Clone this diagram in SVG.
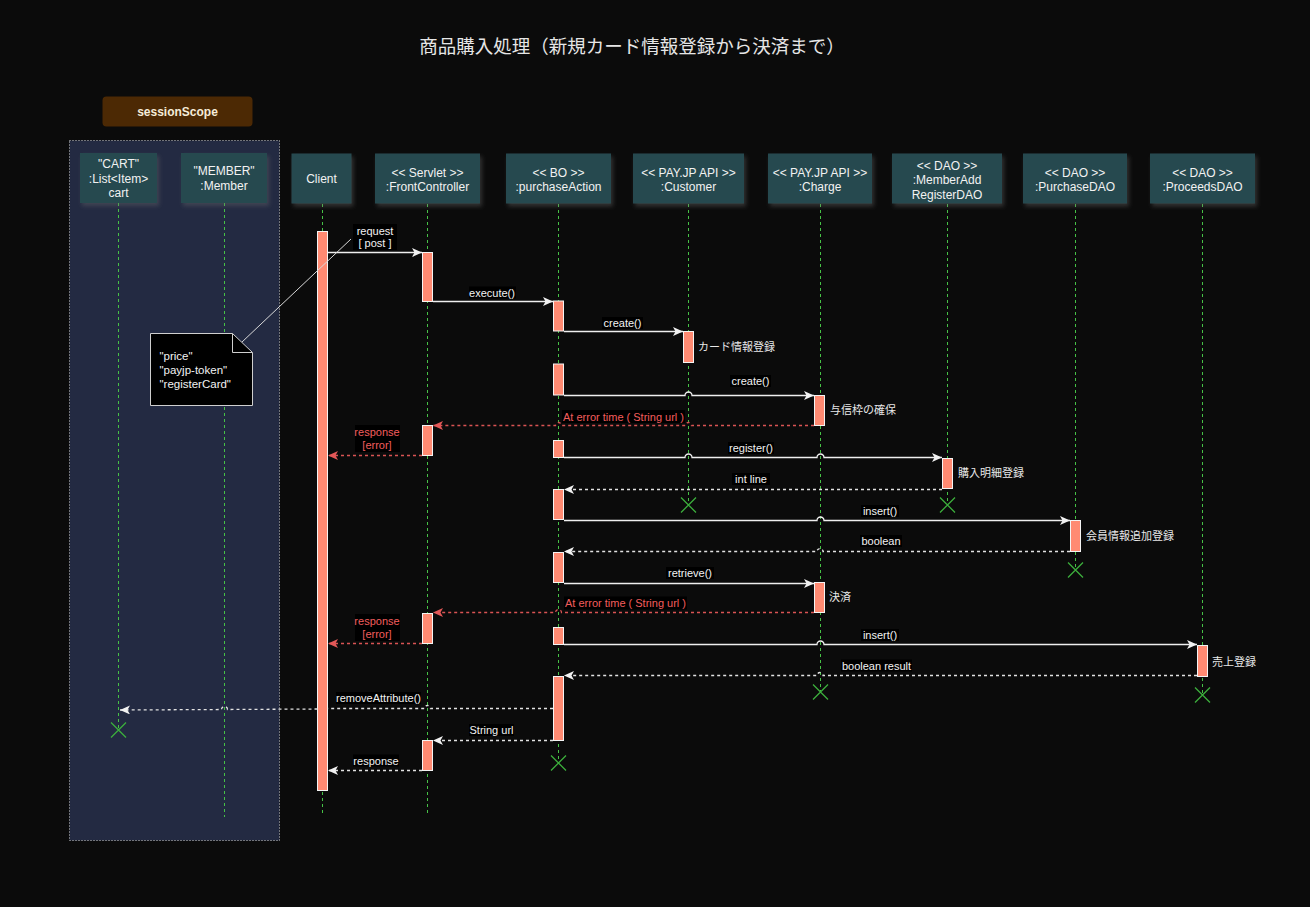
<svg xmlns="http://www.w3.org/2000/svg" width="1310" height="907" viewBox="0 0 1310 907">
  <style>
    .t { font-family: "Liberation Sans", Arial, "Noto Sans CJK JP", sans-serif; }
    .box { fill: #274a50; filter: url(#sh); }
    .bt { font-size: 12px; fill: #f2f2f2; text-anchor: middle; dominant-baseline: central; }
    .life { stroke: #46c246; stroke-width: 1; stroke-dasharray: 3 3; fill: none; }
    .bar { fill: #ff8a72; stroke: #f4f4f4; stroke-width: 1; }
    .xm { stroke: #3cae3c; stroke-width: 1.3; fill: none; }
    .msg { stroke: #efefef; stroke-width: 1.3; fill: none; marker-end: url(#aw); }
    .ret { stroke: #e2e2e2; stroke-width: 1.3; fill: none; stroke-dasharray: 3 3; marker-end: url(#aw); }
    .err { stroke: #d95353; stroke-width: 1.3; fill: none; stroke-dasharray: 3 3; marker-end: url(#ar); }
    .lb { fill: #000; }
    .lt { font-size: 11px; fill: #f2f2f2; text-anchor: middle; dominant-baseline: central; }
    .le { font-size: 11px; fill: #f25d5d; text-anchor: middle; dominant-baseline: central; }
    .side { font-size: 11px; fill: #e8e8e8; dominant-baseline: central; }
    .nt { font-size: 11.5px; fill: #f2f2f2; dominant-baseline: central; }
  </style>
  <defs>
    <filter id="sh" x="-20%" y="-20%" width="150%" height="150%">
      <feDropShadow dx="2" dy="3" stdDeviation="2" flood-color="#6a6a6a" flood-opacity="0.4"/>
    </filter>
    <marker id="aw" markerUnits="userSpaceOnUse" markerWidth="11" markerHeight="9" refX="10" refY="4.5" orient="auto">
      <path d="M0,0 L10,4.5 L0,9 L2.5,4.5 Z" fill="#f2f2f2"/>
    </marker>
    <marker id="ar" markerUnits="userSpaceOnUse" markerWidth="11" markerHeight="9" refX="10" refY="4.5" orient="auto">
      <path d="M0,0 L10,4.5 L0,9 L2.5,4.5 Z" fill="#e35858"/>
    </marker>
  </defs>

  <!-- background -->
  <rect x="0" y="0" width="1310" height="907" fill="#0b0b0b"/>

  <!-- title -->
  <text class="t" x="632" y="46" font-size="18.5" fill="#e6e6e6" text-anchor="middle" dominant-baseline="central">商品購入処理（新規カード情報登録から決済まで）</text>

  <!-- session scope frame -->
  <g id="session-scope">
    <rect x="69.5" y="140.5" width="210" height="700" fill="#232a42" stroke="#cfcfcf" stroke-width="1" stroke-dasharray="1 2"/>
    <rect x="102.5" y="96.5" width="150" height="30" rx="4" fill="#4c2904"/>
    <text class="t" x="177.5" y="111.5" font-size="12" font-weight="bold" fill="#f6ecd9" text-anchor="middle" dominant-baseline="central">sessionScope</text>
  </g>

  <!-- participants -->
  <g id="p-cart">
    <line class="life" x1="118.5" y1="203" x2="118.5" y2="730"/>
    <rect class="box" x="80" y="153" width="77" height="50"/>
    <text class="t bt" x="118.5" y="164">"CART"</text>
    <text class="t bt" x="118.5" y="178.5">:List&lt;Item&gt;</text>
    <text class="t bt" x="118.5" y="192.5">cart</text>
    <path class="xm" d="M111,722.5 L126,737.5 M126,722.5 L111,737.5"/>
  </g>

  <g id="p-member">
    <line class="life" x1="224.5" y1="203" x2="224.5" y2="817"/>
    <rect class="box" x="181" y="153" width="86" height="50"/>
    <text class="t bt" x="224" y="171">"MEMBER"</text>
    <text class="t bt" x="224" y="186">:Member</text>
  </g>

  <g id="p-client">
    <line class="life" x1="322.5" y1="204" x2="322.5" y2="813"/>
    <rect class="box" x="291.5" y="153.5" width="60" height="50"/>
    <text class="t bt" x="321.5" y="179">Client</text>
    <rect class="bar" x="317.5" y="231.5" width="10" height="559"/>
  </g>

  <g id="p-frontcontroller">
    <line class="life" x1="427.5" y1="204" x2="427.5" y2="815"/>
    <rect class="box" x="375" y="153.5" width="105" height="50"/>
    <text class="t bt" x="427.5" y="172.5">&lt;&lt; Servlet &gt;&gt;</text>
    <text class="t bt" x="427.5" y="187">:FrontController</text>
    <rect class="bar" x="422.5" y="252.5" width="10" height="49"/>
    <rect class="bar" x="422.5" y="425.5" width="10" height="30"/>
    <rect class="bar" x="422.5" y="613.5" width="10" height="30"/>
    <rect class="bar" x="422.5" y="740.5" width="10" height="30"/>
  </g>

  <g id="p-purchaseaction">
    <line class="life" x1="558.5" y1="204" x2="558.5" y2="763"/>
    <rect class="box" x="506" y="153.5" width="105" height="50"/>
    <text class="t bt" x="558.5" y="172.5">&lt;&lt; BO &gt;&gt;</text>
    <text class="t bt" x="558.5" y="187">:purchaseAction</text>
    <rect class="bar" x="553.5" y="301" width="10" height="30"/>
    <rect class="bar" x="553.5" y="364" width="10" height="31"/>
    <rect class="bar" x="553.5" y="440.5" width="10" height="17"/>
    <rect class="bar" x="553.5" y="489.5" width="10" height="30"/>
    <rect class="bar" x="553.5" y="552.5" width="10" height="30"/>
    <rect class="bar" x="553.5" y="627.5" width="10" height="17"/>
    <rect class="bar" x="553.5" y="676.5" width="10" height="64"/>
    <path class="xm" d="M551,755.5 L566,770.5 M566,755.5 L551,770.5"/>
  </g>

  <g id="p-customer">
    <line class="life" x1="688.5" y1="204" x2="688.5" y2="505"/>
    <rect class="box" x="633" y="153.5" width="111" height="50"/>
    <text class="t bt" x="688.5" y="172.5">&lt;&lt; PAY.JP API &gt;&gt;</text>
    <text class="t bt" x="688.5" y="187">:Customer</text>
    <rect class="bar" x="683.5" y="331.5" width="10" height="31"/>
    <path class="xm" d="M681,497.5 L696,512.5 M696,497.5 L681,512.5"/>
  </g>

  <g id="p-charge">
    <line class="life" x1="820.5" y1="204" x2="820.5" y2="692"/>
    <rect class="box" x="768" y="153.5" width="104" height="50"/>
    <text class="t bt" x="820" y="172.5">&lt;&lt; PAY.JP API &gt;&gt;</text>
    <text class="t bt" x="820" y="187">:Charge</text>
    <rect class="bar" x="814.5" y="395.5" width="10" height="30"/>
    <rect class="bar" x="814.5" y="582.5" width="10" height="30"/>
    <path class="xm" d="M813,684.5 L828,699.5 M828,684.5 L813,699.5"/>
  </g>

  <g id="p-memberadd">
    <line class="life" x1="947.5" y1="204" x2="947.5" y2="505"/>
    <rect class="box" x="892" y="153.5" width="110" height="50"/>
    <text class="t bt" x="947" y="166">&lt;&lt; DAO &gt;&gt;</text>
    <text class="t bt" x="947" y="180">:MemberAdd</text>
    <text class="t bt" x="947" y="194.5">RegisterDAO</text>
    <rect class="bar" x="942.5" y="458.5" width="10" height="30"/>
    <path class="xm" d="M940,497.5 L955,512.5 M955,497.5 L940,512.5"/>
  </g>

  <g id="p-purchasedao">
    <line class="life" x1="1075.5" y1="204" x2="1075.5" y2="570"/>
    <rect class="box" x="1023" y="153.5" width="104" height="50"/>
    <text class="t bt" x="1075" y="172.5">&lt;&lt; DAO &gt;&gt;</text>
    <text class="t bt" x="1075" y="187">:PurchaseDAO</text>
    <rect class="bar" x="1070.5" y="520.5" width="10" height="31"/>
    <path class="xm" d="M1068,562.5 L1083,577.5 M1083,562.5 L1068,577.5"/>
  </g>

  <g id="p-proceedsdao">
    <line class="life" x1="1202.5" y1="204" x2="1202.5" y2="695"/>
    <rect class="box" x="1150" y="153.5" width="105" height="50"/>
    <text class="t bt" x="1202.5" y="172.5">&lt;&lt; DAO &gt;&gt;</text>
    <text class="t bt" x="1202.5" y="187">:ProceedsDAO</text>
    <rect class="bar" x="1197.5" y="645.5" width="10" height="31"/>
    <path class="xm" d="M1195,687.5 L1210,702.5 M1210,687.5 L1195,702.5"/>
  </g>

  <!-- messages -->
  <g id="connectors">
    <path class="msg" d="M328,252.5 L422,252.5"/>
    <rect class="lb" x="353" y="224" width="44" height="26"/>
    <text class="t lt" x="375" y="231">request</text>
    <text class="t lt" x="375" y="243">[ post ]</text>

    <path class="msg" d="M433,301.5 L553,301.5"/>
    <rect class="lb" x="469" y="286.5" width="47" height="12"/>
    <text class="t lt" x="492" y="292.5">execute()</text>

    <path class="msg" d="M564,331.5 L683,331.5"/>
    <rect class="lb" x="602" y="317" width="41" height="12"/>
    <text class="t lt" x="622.5" y="323">create()</text>

    <path class="msg" d="M564,395.5 L685,395.5 A3.5,3.5 0 0 1 692,395.5 L814,395.5"/>
    <rect class="lb" x="730" y="375" width="41" height="12"/>
    <text class="t lt" x="750.5" y="381">create()</text>

    <path class="err" d="M814,425.5 L691.5,425.5 A3,3 0 0 0 685.5,425.5 L561.5,425.5 A3,3 0 0 0 555.5,425.5 L433,425.5"/>
    <rect class="lb" x="562" y="410" width="123" height="13"/>
    <text class="t le" x="623.5" y="416.5">At error time ( String url )</text>

    <path class="err" d="M422,455.5 L328,455.5"/>
    <rect class="lb" x="355" y="425" width="45" height="27"/>
    <text class="t le" x="377" y="431.5">response</text>
    <text class="t le" x="377" y="445">[error]</text>

    <path class="msg" d="M564,457.5 L685,457.5 A3.5,3.5 0 0 1 692,457.5 L817,457.5 A3.5,3.5 0 0 1 824,457.5 L942,457.5"/>
    <rect class="lb" x="728" y="442" width="46" height="12"/>
    <text class="t lt" x="751" y="448">register()</text>

    <path class="ret" d="M942,489.5 L564,489.5"/>
    <rect class="lb" x="732" y="473" width="38" height="12"/>
    <text class="t lt" x="751" y="479">int line</text>

    <path class="msg" d="M564,520.5 L817,520.5 A3.5,3.5 0 0 1 824,520.5 L1070,520.5"/>
    <rect class="lb" x="861" y="505" width="38" height="12"/>
    <text class="t lt" x="880" y="511">insert()</text>

    <path class="ret" d="M1070,551.5 L823,551.5 A3,3 0 0 0 817,551.5 L564,551.5"/>
    <rect class="lb" x="860" y="535" width="42" height="12"/>
    <text class="t lt" x="881" y="541">boolean</text>

    <path class="msg" d="M564,583.5 L814,583.5"/>
    <rect class="lb" x="666" y="567" width="48" height="12"/>
    <text class="t lt" x="690" y="573">retrieve()</text>

    <path class="err" d="M814,612.5 L561.5,612.5 A3,3 0 0 0 555.5,612.5 L433,612.5"/>
    <rect class="lb" x="564" y="596.5" width="123" height="13"/>
    <text class="t le" x="625.5" y="603">At error time ( String url )</text>

    <path class="err" d="M422,643.5 L328,643.5"/>
    <rect class="lb" x="355" y="614" width="45" height="27"/>
    <text class="t le" x="377" y="620.5">response</text>
    <text class="t le" x="377" y="634">[error]</text>

    <path class="msg" d="M564,644.5 L817,644.5 A3.5,3.5 0 0 1 824,644.5 L1197,644.5"/>
    <rect class="lb" x="861" y="629" width="38" height="12"/>
    <text class="t lt" x="880" y="635">insert()</text>

    <path class="ret" d="M1197,675.5 L823,675.5 A3,3 0 0 0 817,675.5 L564,675.5"/>
    <rect class="lb" x="841" y="659.5" width="71" height="12"/>
    <text class="t lt" x="876.5" y="665.5">boolean result</text>

    <path class="ret" d="M553,708.5 L430.5,708.5 A3,3 0 0 0 424.5,708.5 L327.5,708.5 M317.5,709 L227.5,709.5 A3,3 0 0 0 221.5,709.5 L120,710"/>
    <rect class="lb" x="336" y="692" width="85" height="12"/>
    <text class="t lt" x="378.5" y="698">removeAttribute()</text>

    <path class="ret" d="M553,740.5 L433,740.5"/>
    <rect class="lb" x="469" y="724" width="45" height="12"/>
    <text class="t lt" x="491.5" y="730">String url</text>

    <path class="ret" d="M422,770.5 L328,770.5"/>
    <rect class="lb" x="353" y="754.5" width="46" height="12"/>
    <text class="t lt" x="376" y="760.5">response</text>
  </g>

  <!-- activity descriptions -->
  <g id="notes-side">
    <text class="t side" x="698" y="347">カード情報登録</text>
    <text class="t side" x="830" y="410">与信枠の確保</text>
    <text class="t side" x="958" y="473">購入明細登録</text>
    <text class="t side" x="1086" y="536">会員情報追加登録</text>
    <text class="t side" x="829" y="597">決済</text>
    <text class="t side" x="1212" y="661.5">売上登録</text>
  </g>

  <!-- request parameter note -->
  <g id="note-params">
    <line x1="242" y1="342" x2="351" y2="239" stroke="#d8d8d8" stroke-width="1"/>
    <path d="M150.5,333.5 L232.5,333.5 L252.5,352.5 L252.5,405.5 L150.5,405.5 Z" fill="#000" stroke="#cfcfcf" stroke-width="1"/>
    <path d="M232.5,333.5 L232.5,352.5 L252.5,352.5" fill="none" stroke="#cfcfcf" stroke-width="1"/>
    <text class="t nt" x="159.5" y="356">"price"</text>
    <text class="t nt" x="159.5" y="370">"payjp-token"</text>
    <text class="t nt" x="159.5" y="384">"registerCard"</text>
  </g>
</svg>
